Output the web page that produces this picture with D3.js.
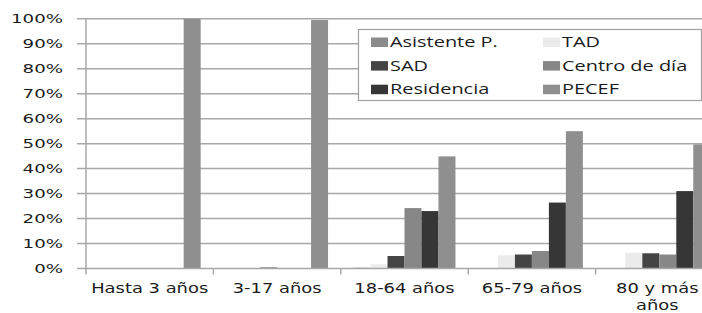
<!DOCTYPE html>
<html>
<head>
<meta charset="utf-8">
<script src="https://cdn.jsdelivr.net/npm/d3@7"></script>
<style>
  html, body { margin: 0; padding: 0; background: #fff; overflow: hidden; }
  svg { display: block; }
</style>
</head>
<body>
<svg id="chart" width="702" height="313"></svg>
<script>
// ---- data ----
const categories = ["Hasta 3 años", "3-17 años", "18-64 años", "65-79 años", "80 y más años"];
const categoryLines = [["Hasta 3 años"], ["3-17 años"], ["18-64 años"], ["65-79 años"], ["80 y más", "años"]];
const series = ["Asistente P.", "TAD", "SAD", "Centro de día", "Residencia", "PECEF"];
const seriesColors = ["#8b8b8b", "#ebebeb", "#444444", "#878787", "#363636", "#8f8f8f"];
const asistenteP   = [0, 0, 0.003, 0, 0];
const tad          = [0, 0, 0.017, 0.053, 0.063];
const sad          = [0, 0.004, 0.050, 0.056, 0.061];
const centroDia    = [0, 0, 0.242, 0.070, 0.056];
const residencia   = [0, 0, 0.230, 0.264, 0.310];
const pecef        = [1.0, 0.995, 0.449, 0.550, 0.497];
const seriesValues = [asistenteP, tad, sad, centroDia, residencia, pecef];
const yTicks = [0, 0.1, 0.2, 0.3, 0.4, 0.5, 0.6, 0.7, 0.8, 0.9, 1.0];

// ---- layout ----
const svg = d3.select("#chart");
const plotLeft = 86, plotRight = 723, plotTop = 18.8, plotBottom = 268.5;
const textColor = "#1c1c1c";
const gridColor = "#a8a8a8";

const y = d3.scaleLinear().domain([0, 1]).range([plotBottom, plotTop]);
const x0 = d3.scaleBand().domain(categories).range([plotLeft, plotRight]).paddingInner(0).paddingOuter(0);
const x1 = d3.scaleBand().domain(series).range([0, x0.bandwidth()]).paddingInner(0).paddingOuter(0.75);
const color = d3.scaleOrdinal().domain(series).range(seriesColors);

// gridlines
svg.append("g").selectAll("line").data(yTicks.filter(d => d > 0)).join("line")
  .attr("x1", plotLeft - 9).attr("x2", 702)
  .attr("y1", d => y(d)).attr("y2", d => y(d))
  .attr("stroke", gridColor).attr("stroke-width", 1.5);

// bars
const groups = svg.append("g").selectAll("g").data(categories).join("g")
  .attr("transform", d => `translate(${x0(d)},0)`);
groups.selectAll("rect")
  .data((c, ci) => series.map((s, si) => ({ s, v: seriesValues[si][ci] })))
  .join("rect")
  .attr("x", d => x1(d.s))
  .attr("width", x1.bandwidth())
  .attr("y", d => y(d.v))
  .attr("height", d => y(0) - y(d.v))
  .attr("fill", d => color(d.s));

// axes lines
svg.append("line").attr("x1", plotLeft).attr("x2", plotLeft).attr("y1", plotTop).attr("y2", plotBottom)
  .attr("stroke", gridColor).attr("stroke-width", 1.5);
svg.append("line").attr("x1", plotLeft - 9).attr("x2", 702).attr("y1", y(0)).attr("y2", y(0))
  .attr("stroke", gridColor).attr("stroke-width", 1.5);
// category tick marks
const bounds = categories.map(c => x0(c)).concat([plotRight]);
svg.append("g").selectAll("line").data(bounds).join("line")
  .attr("x1", d => d).attr("x2", d => d)
  .attr("y1", y(0)).attr("y2", y(0) + 6)
  .attr("stroke", gridColor).attr("stroke-width", 1.5);

// y tick labels
svg.append("g").selectAll("text").data(yTicks).join("text")
  .attr("transform", d => `translate(63,${y(d) + 4.6}) scale(1.4,1)`)
  .attr("text-anchor", "end")
  .attr("font-family", "DejaVu Sans")
  .attr("font-size", 13)
  .attr("fill", textColor)
  .text(d => d3.format(".0%")(d));

// category labels (multi-line labels as tspans of one text)
svg.append("g").selectAll("text").data(categories).join("text")
  .attr("transform", (c, i) => `translate(${x0(c) + x0.bandwidth() / 2 - (i === 4 ? 2 : 0)},293) scale(1.28,1)`)
  .attr("text-anchor", "middle")
  .attr("font-family", "DejaVu Sans")
  .attr("font-size", 14)
  .attr("fill", textColor)
  .each(function(c, i) {
    d3.select(this).selectAll("tspan").data(categoryLines[i]).join("tspan")
      .attr("x", 0)
      .attr("y", (t, j) => j * 16.8)
      .text(t => t);
  });

// legend
const legend = svg.append("g");
legend.append("rect").attr("x", 358.5).attr("y", 29.5).attr("width", 343).attr("height", 71)
  .attr("fill", "#fff").attr("stroke", "#a0a0a0").attr("stroke-width", 1.2);
const legItems = legend.selectAll("g").data(series).join("g")
  .attr("transform", (d, i) => `translate(${i % 2 === 0 ? 371 : 543},${47 + Math.floor(i / 2) * 23.6})`);
legItems.append("rect").attr("x", 0).attr("y", -9.5).attr("width", 17).attr("height", 9.5)
  .attr("fill", d => color(d));
legItems.append("text")
  .attr("transform", "translate(19,0) scale(1.33,1)")
  .attr("font-family", "Open Sans")
  .attr("font-size", 15)
  .attr("fill", textColor)
  .text(d => d);
</script>
</body>
</html>
